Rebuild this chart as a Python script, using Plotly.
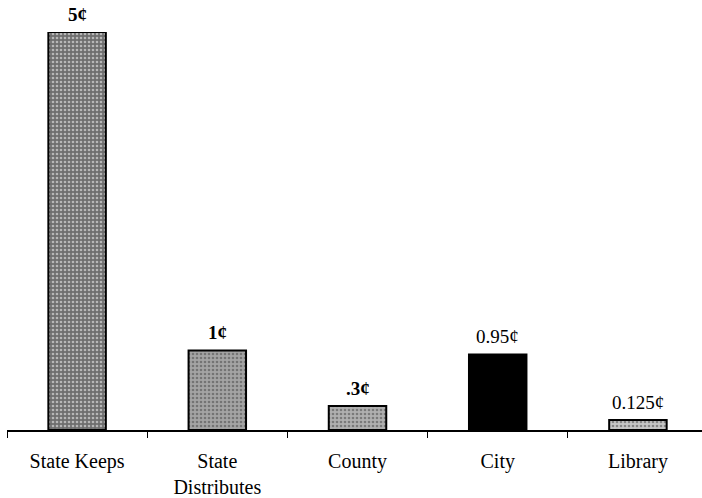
import plotly.graph_objects as go

# Share of each sales-tax penny
categories = ["State Keeps", "State<br>Distributes", "County", "City", "Library"]
values = [5, 1, 0.3, 0.95, 0.125]
value_labels = ["<b>5¢</b>", "<b>1¢</b>", "<b>.3¢</b>", "0.95¢", "0.125¢"]
fill_colors = ["#6e6e6e", "#a4a4a4", "#b0b0b0", "#000000", "#c6c6c6"]
pattern_shapes = [".", ".", ".", "", "."]

FONT = "Liberation Serif, Times New Roman, serif"

fig = go.Figure(
    go.Bar(
        x=categories,
        y=values,
        marker=dict(
            color=fill_colors,
            line=dict(color="black", width=2),
            pattern=dict(shape=pattern_shapes, fgcolor="#1e1e1e", size=4, solidity=0.35),
        ),
        width=0.41,
        cliponaxis=False,
        hoverinfo="skip",
    )
)

for cat, val, lab in zip(categories, values, value_labels):
    fig.add_annotation(
        x=cat, y=val, text=lab, showarrow=False,
        yanchor="middle", yshift=18,
        font=dict(family=FONT, size=19, color="black"),
    )

fig.update_layout(
    width=702, height=498,
    margin=dict(l=7, r=0, t=32, b=68),
    paper_bgcolor="white", plot_bgcolor="white",
    showlegend=False,
    font=dict(family=FONT, size=20, color="black"),
    xaxis=dict(
        type="category",
        range=[-0.5, 4.457],
        showline=True, linecolor="black", linewidth=1.5,
        ticks="outside", tickson="boundaries", ticklen=6, tickcolor="black",
        ticklabelstandoff=12,
        showgrid=False, zeroline=False,
        tickfont=dict(family=FONT, size=20, color="black"),
    ),
    yaxis=dict(
        range=[0, 5], visible=False, showgrid=False, zeroline=False,
    ),
)

fig.write_html("out.html")
